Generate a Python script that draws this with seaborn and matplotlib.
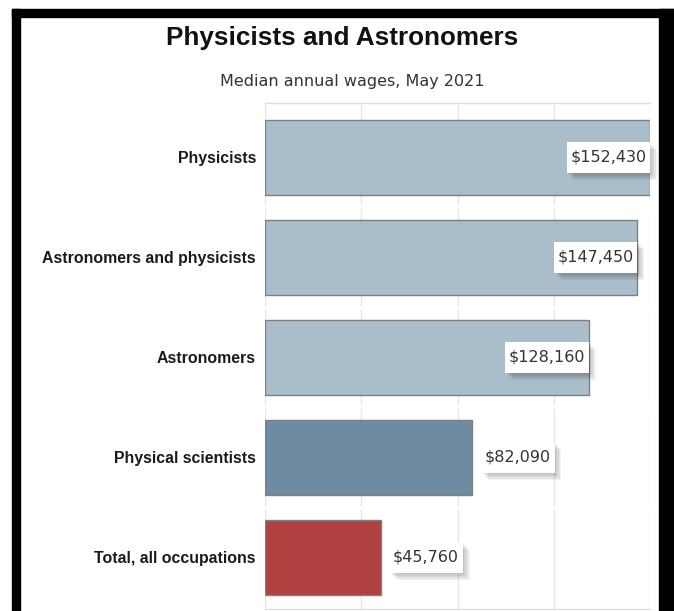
import matplotlib
matplotlib.use("Agg")
import numpy as np
import pandas as pd
import matplotlib.pyplot as plt
import matplotlib.patheffects as pe
from matplotlib.patches import Rectangle
from matplotlib.path import Path
import seaborn as sns

# chart data
occupations = ["Physicists", "Astronomers and physicists", "Astronomers",
               "Physical scientists", "Total, all occupations"]
wages = [152430, 147450, 128160, 82090, 45760]
bar_colors = ["#aabdca", "#aabdca", "#aabdca", "#6f8ba1", "#b24142"]

title = "Physicists and Astronomers"
subtitle = "Median annual wages, May 2021"

df = pd.DataFrame({"occupation": occupations, "wage": wages})

sns.set_theme(style="white")
plt.rcParams["font.family"] = ["DejaVu Sans"]

W, H = 674, 611
fig = plt.figure(figsize=(W / 100, H / 100), dpi=100)
fig.patch.set_facecolor("white")

def fx(px):
    return px / W

def fy(py):
    return 1 - py / H

ax = fig.add_axes([fx(265), fy(609), fx(650) - fx(265), fy(103) - fy(609)])

sns.barplot(data=df, x="wage", y="occupation", hue="occupation",
            palette=bar_colors, legend=False, width=0.75, saturation=1,
            edgecolor="#808080", linewidth=1, ax=ax)

top = max(wages)
ax.set_xlim(0, top)
ax.set_ylim(4.515, -0.545)
ax.set_xticks(np.linspace(0, top, 5))
ax.set_xticklabels([])
ax.set_xlabel("")
ax.set_ylabel("")
ax.set_axisbelow(True)
ax.grid(axis="x", color="#e6e6e6", linewidth=1)
ax.tick_params(axis="both", length=0)
ax.tick_params(axis="y", pad=6.5)
for lbl in ax.get_yticklabels():
    lbl.set_fontfamily("Liberation Sans")
    lbl.set_fontweight("bold")
    lbl.set_fontsize(11.4)
    lbl.set_color("#1a1a1a")

for side in ["left", "right"]:
    ax.spines[side].set_visible(False)
for side in ["top", "bottom"]:
    ax.spines[side].set_color("#dddddd")
    ax.spines[side].set_linewidth(1)

# small breaks in the grid between categories
for i in range(len(occupations) - 1):
    ax.axhline(i + 0.5, color="white", linewidth=2.5, zorder=0.8)

# label box: narrow side padding, taller top/bottom padding
def label_box(x0, y0, width, height, mutation_size):
    px, py = 0.22 * mutation_size, 0.5 * mutation_size
    x0, y0 = x0 - px, y0 - py
    x1, y1 = x0 + width + 2 * px, y0 + height + 2 * py
    return Path([(x0, y0), (x1, y0), (x1, y1), (x0, y1), (x0, y0)], closed=True)

soft_shadow = [pe.SimplePatchShadow(offset=(d, -d), shadow_rgbFace="black", alpha=0.05)
               for d in (1, 2, 3, 4, 5)] + [pe.Normal()]

fs = 11.5
for i, w in enumerate(wages):
    inside = w > 0.6 * top
    off = -0.22 * fs if inside else 6.5 + 0.22 * fs
    t = ax.annotate(f"${w:,}", xy=(w, i), xytext=(off, 0),
                    textcoords="offset points",
                    ha="right" if inside else "left", va="center",
                    fontsize=fs, color="#333333", zorder=5,
                    bbox=dict(boxstyle=label_box, fc="white", ec="none"))
    t.get_bbox_patch().set_path_effects(soft_shadow)

fig.text(fx(342), fy(45), title, ha="center", va="baseline",
         fontsize=18.8, fontweight="bold", family="Liberation Sans", color="#111111")
fig.text(fx(352), fy(86), subtitle, ha="center", va="baseline",
         fontsize=11.5, color="#333333")

# black frame around the chart
frame = [(12, 9, 674, 17), (12, 9, 20, 611), (659, 9, 674, 611)]
for x0, y0, x1, y1 in frame:
    fig.add_artist(Rectangle((fx(x0), fy(y1)), fx(x1) - fx(x0), fy(y0) - fy(y1),
                             transform=fig.transFigure, color="black", zorder=10))

fig.savefig("out.png", dpi=100)
